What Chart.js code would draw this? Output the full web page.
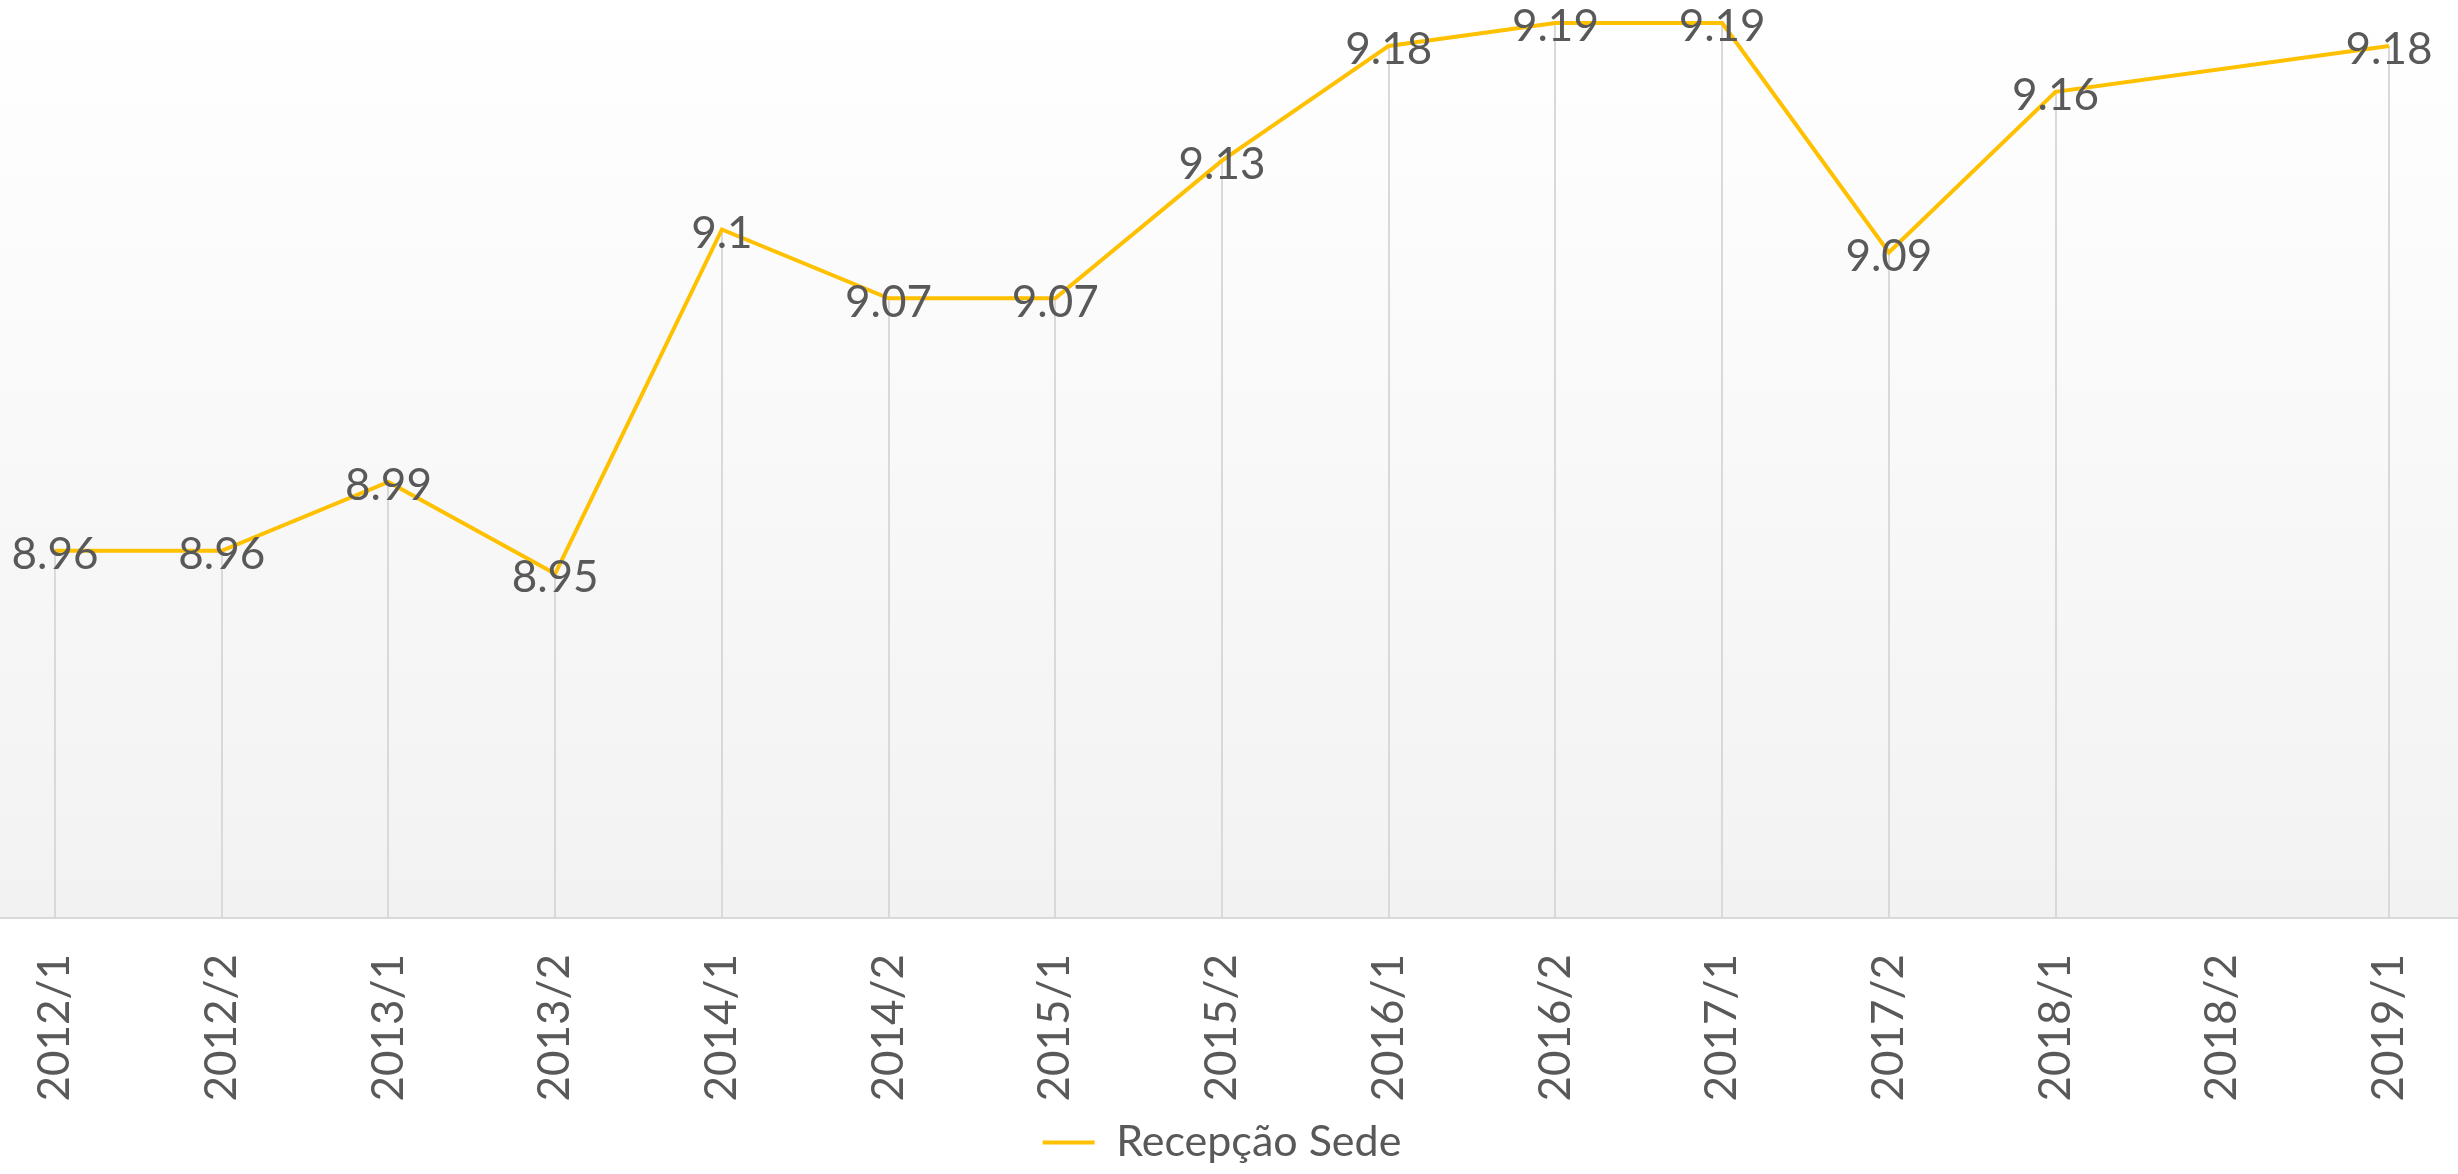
<!DOCTYPE html>
<html>
<head>
<meta charset="utf-8">
<script src="https://cdn.jsdelivr.net/npm/chart.js@4"></script>
<style>
  html, body { margin: 0; padding: 0; background: #fff; }
  canvas { display: block; }
</style>
</head>
<body>
<canvas id="chart" width="2458" height="1174"></canvas>
<script>
// periods on the category axis
const periods = ["2012/1", "2012/2", "2013/1", "2013/2", "2014/1", "2014/2", "2015/1", "2015/2",
  "2016/1", "2016/2", "2017/1", "2017/2", "2018/1", "2018/2", "2019/1"];

// Recepção Sede scores (2018/2 has no value)
const recepcaoSede = [8.96, 8.96, 8.99, 8.95, 9.1, 9.07, 9.07, 9.13, 9.18, 9.19, 9.19, 9.09, 9.16, null, 9.18];

const seriesName = "Recepção Sede";
const yMin = 8.8;
const yMax = 9.2;

const textColor = "#595959";
const lineColor = "#FFC000";
const gridColor = "#d9d9d9";
const fontFamily = "Lato, 'Open Sans', sans-serif";

// background gradient, drop lines, axis line and value labels
const backdrop = {
  id: "backdrop",
  beforeDraw(c) {
    const ctx = c.ctx;
    const bottom = c.chartArea.bottom;
    ctx.save();
    const g = ctx.createLinearGradient(0, 0, 0, bottom);
    g.addColorStop(0, "#ffffff");
    g.addColorStop(1, "#f2f2f2");
    ctx.fillStyle = g;
    ctx.fillRect(0, 0, c.width, bottom);
    ctx.restore();
  },
  beforeDatasetsDraw(c) {
    const ctx = c.ctx;
    const meta = c.getDatasetMeta(0);
    const bottom = c.chartArea.bottom;
    ctx.save();
    ctx.strokeStyle = gridColor;
    ctx.lineWidth = 2;
    meta.data.forEach((pt, i) => {
      if (recepcaoSede[i] == null) return;
      ctx.beginPath();
      ctx.moveTo(Math.round(pt.x), pt.y);
      ctx.lineTo(Math.round(pt.x), bottom);
      ctx.stroke();
    });
    ctx.beginPath();
    ctx.moveTo(0, bottom);
    ctx.lineTo(c.width, bottom);
    ctx.stroke();
    ctx.restore();
  },
  afterDatasetsDraw(c) {
    const ctx = c.ctx;
    const meta = c.getDatasetMeta(0);
    ctx.save();
    ctx.font = "44px " + fontFamily;
    ctx.fillStyle = textColor;
    ctx.textAlign = "center";
    ctx.textBaseline = "middle";
    meta.data.forEach((pt, i) => {
      const v = recepcaoSede[i];
      if (v == null) return;
      ctx.fillText(String(v), pt.x, pt.y + 4);
    });
    ctx.restore();
  }
};

new Chart(document.getElementById("chart"), {
  type: "line",
  data: {
    labels: periods,
    datasets: [{
      label: seriesName,
      data: recepcaoSede,
      borderColor: lineColor,
      backgroundColor: lineColor,
      borderWidth: 4,
      pointRadius: 0,
      spanGaps: true,
      tension: 0
    }]
  },
  options: {
    responsive: false,
    devicePixelRatio: 1,
    animation: false,
    layout: { padding: { left: 55, right: 69, top: 0, bottom: 0 } },
    plugins: {
      tooltip: { enabled: false },
      legend: {
        position: "bottom",
        labels: {
          color: textColor,
          font: { family: fontFamily, size: 43 },
          boxWidth: 52,
          boxHeight: 4,
          padding: 10,
          generateLabels(c) {
            const items = Chart.defaults.plugins.legend.labels.generateLabels(c);
            items.forEach(it => { it.lineWidth = 0; it.fillStyle = lineColor; });
            return items;
          }
        }
      }
    },
    scales: {
      x: {
        offset: false,
        grid: { display: false, drawTicks: false },
        border: { display: false },
        ticks: {
          color: textColor,
          font: { family: fontFamily, size: 44 },
          minRotation: 90,
          maxRotation: 90,
          padding: 36,
          autoSkip: false
        },
        afterFit(s) {
          s.height = 193;
          s.paddingLeft = 0;
          s.paddingRight = 0;
        }
      },
      y: {
        display: false,
        min: yMin,
        max: yMax
      }
    }
  },
  plugins: [backdrop]
});
</script>
</body>
</html>
